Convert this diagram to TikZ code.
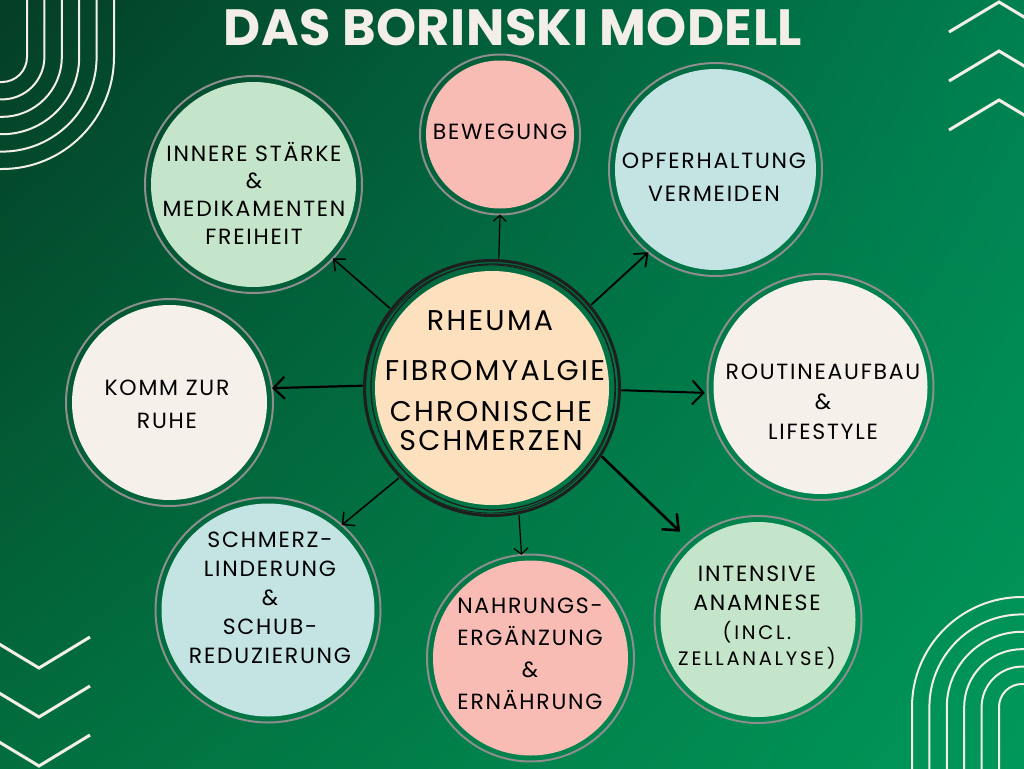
\documentclass[tikz,border=0pt]{standalone}
\usepackage{fontspec}
\usetikzlibrary{arrows.meta,shadings}
\newfontfamily\bodyfont{Poppins}[LetterSpace=8]
\newfontfamily\smallfont{Poppins}[LetterSpace=14]
\newfontfamily\titlefont{Poppins}[LetterSpace=1]
\definecolor{bgUL}{RGB}{4,62,38}
\definecolor{bgUR}{RGB}{0,128,80}
\definecolor{bgLL}{RGB}{2,110,62}
\definecolor{bgLR}{RGB}{0,152,90}
\definecolor{offwhite}{HTML}{F3EFE8}
\definecolor{ringgray}{HTML}{8E8E8E}
\definecolor{pinkC}{HTML}{F8BCB5}
\definecolor{mintC}{HTML}{C4E5C9}
\definecolor{cyanC}{HTML}{C3E4E2}
\definecolor{creamC}{HTML}{F5F0EA}
\definecolor{peachC}{HTML}{FDE1BE}
\definecolor{sketch}{HTML}{1E1E1E}
\begin{document}
\begin{tikzpicture}[x=1pt,y=-1pt,
  circ/.style n args={3}{circle, draw=ringgray, line width=2pt, minimum size=#1,
    inner sep=0pt, outer sep=0pt,
    path picture={\fill[#2] (path picture bounding box.center) circle[radius=#3];}},
  arr/.style n args={3}{draw=black, line width=#1, line cap=round,
    -{Straight Barb[length=#2, width=#3]}},
  lbl/.style={align=center, text=black, inner sep=0pt,
    font={\bodyfont\fontsize{22pt}{#1}\selectfont}},
  lblsm/.style={align=center, text=black, inner sep=0pt,
    font={\smallfont\fontsize{19.5pt}{#1}\selectfont}},
  lblc/.style={align=center, text=black, inner sep=0pt,
    font={\bodyfont\fontsize{28.5pt}{#1}\selectfont}},
  deco/.style={draw=offwhite, line width=2pt},
  chev/.style={draw=offwhite, line width=3pt}
]
\useasboundingbox (0,0) rectangle (1024,768);
\clip (0,0) rectangle (1024,768);
% background
\shade[shading=bilinear interpolation, upper left=bgUL, upper right=bgUR, lower left=bgLL, lower right=bgLR]
  (0,0) rectangle (1024,768);
% top-left arcs
\foreach \i in {0,...,5}{
  \pgfmathsetmacro{\r}{25+17.4*\i}
  \draw[deco, rounded corners=\r pt] (2+\r,-5) -- (2+\r,57+\r) -- (-5,57+\r);
}
% bottom-right arcs
\foreach \i in {0,...,5}{
  \pgfmathsetmacro{\r}{23+17.4*\i}
  \draw[deco, rounded corners=\r pt] (1022-\r,775) -- (1022-\r,707-\r) -- (1030,707-\r);
}
% top-right chevrons
\foreach \k in {0,1,2}{
  \draw[chev] (949,32+49*\k) -- (999,2+49*\k) -- (1030,20.6+49*\k);
}
% bottom-left chevrons
\foreach \k in {0,1,2}{
  \draw[chev] (-5,641.5+49*\k) -- (39,668+49*\k) -- (90,637+49*\k);
}
% outer circles
\node[circ={217pt}{mintC}{102.5pt}]  (inn) at (253.5,184.5) {};
\node[circ={160pt}{pinkC}{74pt}]     (bew) at (500,134.5) {};
\node[circ={213pt}{cyanC}{100.5pt}]  (opf) at (715.5,169.5) {};
\node[circ={226pt}{creamC}{107pt}]   (rou) at (820.5,387) {};
\node[circ={207pt}{creamC}{97.5pt}]  (kom) at (169.5,402.5) {};
\node[circ={225pt}{cyanC}{106.5pt}]  (sch) at (268,610) {};
\node[circ={207pt}{pinkC}{97.5pt}]   (nah) at (530.5,658) {};
\node[circ={207pt}{mintC}{97.5pt}]   (int) at (758,619.5) {};
% centre circle
\node[circle, minimum size=260pt, inner sep=0pt, outer sep=0pt] (c) at (492,388) {};
\draw[sketch, line width=3pt] (c.center) circle[radius=127.5pt];
\draw[sketch, line width=0.9pt] ([shift={(-1.5,1)}]c.center) circle[x radius=125pt, y radius=124pt];
\draw[sketch, line width=1.3pt] ([shift={(1,-1)}]c.center) circle[x radius=122pt, y radius=123pt];
\fill[peachC] (c.center) circle[radius=117pt];
% arrows
\draw[arr={1.2pt}{6pt}{13pt}] (c.87) -- (bew.south);
\draw[arr={1.8pt}{11pt}{18pt}] (c.40) -- (opf.231);
\draw[arr={1.5pt}{9pt}{16pt}] (c.142) -- (inn.317);
\draw[arr={2.2pt}{11pt}{22pt}] (c.179) -- (kom.8);
\draw[arr={2pt}{11pt}{24pt}, shorten >=3pt] (c.359) -- (rou.183);
\draw[arr={2.6pt}{13pt}{22pt}, shorten >=14pt] (c.328) -- (int.131);
\draw[arr={1.5pt}{9pt}{18pt}] (c.224) -- (sch.49);
\draw[arr={1.2pt}{6pt}{14pt}] (c.282) -- (nah.95);
% texts
\node[lbl=27.7pt] (innT) at (254,193) {INNERE STÄRKE\\\&\\MEDIKAMENTEN\\FREIHEIT};
\node[lbl=30pt]   (bewT) at (500,132) {BEWEGUNG};
\node[lbl=33pt]   (opfT) at (714,177.5) {OPFERHALTUNG\\VERMEIDEN};
\node[lbl=30pt]   (rouT) at (823,402) {ROUTINEAUFBAU\\\&\\LIFESTYLE};
\node[lbl=33pt]   (komT) at (167,404.5) {KOMM ZUR\\RUHE};
\node[lbl=29pt]   (schT) at (270,598) {SCHMERZ-\\LINDERUNG\\\&\\SCHUB-\\REDUZIERUNG};
\node[lbl=32pt]   (nahT) at (530,654) {NAHRUNGS-\\ERGÄNZUNG\\\&\\ERNÄHRUNG};
\node[lbl=29pt]   (intT) at (757,588.5) {INTENSIVE\\ANAMNESE};
\node[lblsm=26pt] (intS) at (757,645) {(INCL.\\ZELLANALYSE)};
\node[lblc=30pt]  (cT1) at (490,321) {RHEUMA};
\node[lblc=30pt]  (cT2) at (495,370.5) {FIBROMYALGIE};
\node[lblc=29pt]  (cT3) at (491,426.5) {CHRONISCHE\\SCHMERZEN};
% title
\node[inner sep=0pt, text=offwhite, font={\titlefont\bfseries\fontsize{51pt}{51pt}\selectfont}]
  (title) at (513,28) {DAS BORINSKI MODELL};
\end{tikzpicture}
\end{document}
